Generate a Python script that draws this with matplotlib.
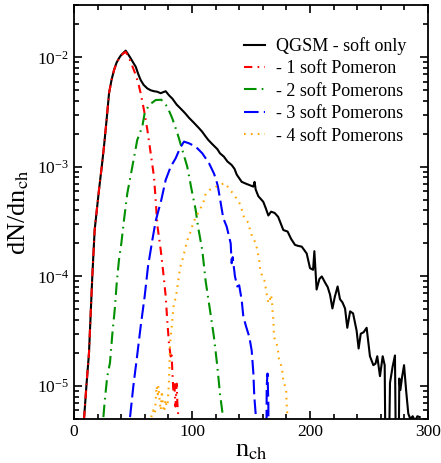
"""Charged multiplicity distribution, QGSM soft-only and n-Pomeron contributions."""

import matplotlib

matplotlib.use("Agg")
import matplotlib.pyplot as plt
from matplotlib.ticker import LogLocator, LogFormatterMathtext, MultipleLocator

plt.rcParams["font.family"] = ["Liberation Serif", "DejaVu Serif"]
plt.rcParams["mathtext.fontset"] = "stix"

# QGSM - soft only (1e-7 = below the plotted range, line drops to the axis)
n_soft = [8.5, 10.5, 12.7, 15.5, 17.5, 19.5, 21.2, 23.5, 25.4, 27.5, 29.7, 31.8, 33.9, 36, 38.1,
          40, 42, 43.8, 46, 48, 50, 52.3, 54.5, 56.5, 59, 62.1, 65, 67.8, 70.5, 73.5, 75.5, 77.7,
          80.5, 83.3, 87, 90.4, 94, 97.5, 102, 106, 108.5, 111.6, 113.8, 117, 121.5, 123.7, 127,
          130, 133.6, 136, 137.9, 142.1, 146, 149, 152, 153, 154, 156.2, 160.4, 162.5, 164.7, 167,
          170, 173, 177.4, 181, 184, 187.3, 190, 193, 197.2, 200, 202.6, 203.7, 205.6, 208, 210,
          213, 215, 217, 219, 221, 223.4, 225.4, 227.5, 229.7, 231.6, 234, 236.5, 239.5, 241.2,
          243, 245.5, 248, 250.8, 253.7, 255.5, 257, 259.3, 261.6, 263.3, 265, 267.8, 270, 272,
          274, 275.7, 276.6, 278, 279.7, 281.5, 283.3, 285, 287, 289, 291, 293]
y_soft = [5e-6, 1e-5, 2e-5, 1e-4, 2.65e-4, 4.2e-4, 6.2e-4, 1.0e-3, 1.53e-3, 2.6e-3, 4.7e-3, 6.2e-3,
          7.65e-3, 8.9e-3, 9.8e-3, 1.05e-2, 1.1e-2, 1.15e-2, 1.06e-2, 9.8e-3, 9.0e-3, 8.2e-3,
          7.0e-3, 6.2e-3, 5.6e-3, 5.2e-3, 5.0e-3, 4.9e-3, 4.85e-3, 4.7e-3, 4.8e-3, 4.9e-3,
          4.5e-3, 4.2e-3, 3.7e-3, 3.4e-3, 3.1e-3, 2.8e-3, 2.5e-3, 2.25e-3, 2.1e-3, 1.89e-3,
          1.76e-3, 1.62e-3, 1.45e-3, 1.33e-3, 1.24e-3, 1.12e-3, 1.04e-3, 9.6e-4, 8.5e-4, 7.3e-4,
          7.0e-4, 6.8e-4, 6.6e-4, 7.3e-4, 6.2e-4, 5.4e-4, 4.8e-4, 4.2e-4, 3.6e-4, 3.9e-4, 3.8e-4,
          3.5e-4, 2.65e-4, 2.57e-4, 2.2e-4, 1.94e-4, 1.9e-4, 1.87e-4, 1.62e-4, 1.19e-4, 1.15e-4,
          1.7e-4, 7.6e-5, 9.5e-5, 1.0e-4, 8.7e-5, 8.0e-5, 6.8e-5, 5.1e-5, 6.5e-5, 8.1e-5, 6.2e-5,
          5.8e-5, 5.1e-5, 3.4e-5, 4.8e-5, 4.6e-5, 3.2e-5, 2.2e-5, 3.0e-5, 3.1e-5, 3.4e-5,
          1.87e-5, 1.55e-5, 1.6e-5, 1.87e-5, 1.23e-5, 1.87e-5, 1.55e-5, 1e-7, 1.07e-5, 1.5e-5,
          1.9e-5, 1e-7, 1.17e-5, 9.2e-6, 1.2e-5, 1.55e-5, 9e-6, 5.6e-6, 5.0e-6, 5.3e-6, 4.8e-6,
          5.3e-6, 5.2e-6]

# 1 soft Pomeron
n_p1 = [8.5, 10.5, 12.7, 15.5, 17.5, 19.5, 21.2, 23.5, 25.4, 27.5, 29.7, 31.8, 33.9, 36, 38.1,
        40, 42, 43.8, 46, 48, 50, 52.3, 54.5, 56.5, 59.3, 62.1, 65, 67.8, 69.2, 70.6, 73.5, 75.7,
        77.7, 79, 80.5, 81.9, 82.7, 83.3, 84.2, 85, 86, 87, 87.6, 88.3, 88.8]
y_p1 = [5e-6, 1e-5, 2e-5, 1e-4, 2.65e-4, 4.2e-4, 6.2e-4, 1.0e-3, 1.53e-3, 2.6e-3, 4.7e-3, 6.2e-3,
        7.6e-3, 8.8e-3, 9.7e-3, 1.04e-2, 1.09e-2, 1.12e-2, 1.02e-2, 9.1e-3, 8.0e-3, 6.9e-3,
        5.8e-3, 4.7e-3, 3.3e-3, 2.2e-3, 1.33e-3, 8.1e-4, 5.0e-4, 2.95e-4, 1.74e-4, 1.07e-4,
        6.6e-5, 4.0e-5, 2.45e-5, 1.86e-5, 2.0e-5, 1.4e-5, 9e-6, 1.1e-5, 6.5e-6, 1.05e-5, 7e-6,
        5.5e-6, 4e-6]

# 2 soft Pomerons
n_p2 = [24.9, 26, 28.2, 30.5, 32.5, 34.5, 36.2, 38.1, 40.1, 42.4, 45.2, 49.4, 53.6, 57.9, 59.9,
        63.6, 69.2, 74, 79, 83.3, 87.6, 91.8, 96, 100.3, 103.1, 105.1, 108.7, 111.6, 115.8, 118.6,
        121.5, 123.7, 126]
y_p2 = [5.2e-6, 7.2e-6, 1.23e-5, 1.63e-5, 3.0e-5, 4.95e-5, 8.7e-5, 1.41e-4, 2.0e-4, 3.3e-4,
        5.75e-4, 1.0e-3, 1.76e-3, 2.34e-3, 3.1e-3, 3.67e-3, 4.07e-3, 4.1e-3, 3.55e-3, 2.77e-3,
        2.03e-3, 1.43e-3, 1.0e-3, 5.7e-4, 4.06e-4, 2.85e-4, 1.74e-4, 9e-5, 4.5e-5, 2.8e-5,
        1.5e-5, 8.5e-6, 5.5e-6]

# 3 soft Pomerons
n_p3 = [47.5, 50.3, 53.1, 56.5, 59.9, 62.7, 66.4, 69.2, 74, 77.7, 81.9, 86.2, 89.8, 93.2, 97.5,
        103.1, 108.7, 114.4, 118.6, 120.5, 122, 124.3, 126.5, 129.4, 132.8, 133.6, 134.5, 136.4,
        138.4, 140, 142.1, 143.5, 145.8, 148.6, 150.6, 152, 152.8, 154, 155, 162.5, 163.3, 164,
        164.7, 165.5]
y_p3 = [5.2e-6, 1e-5, 1.74e-5, 3.5e-5, 6.6e-5, 1.23e-4, 2.15e-4, 3.2e-4, 5e-4, 7.6e-4, 1e-3,
        1.2e-3, 1.48e-3, 1.7e-3, 1.64e-3, 1.53e-3, 1.33e-3, 1.08e-3, 8.7e-4, 7.6e-4, 6.6e-4,
        4.7e-4, 3.4e-4, 2.85e-4, 2e-4, 1.32e-4, 1.5e-4, 1e-4, 8.1e-5, 8.3e-5, 6.1e-5, 4.3e-5,
        3.5e-5, 2.8e-5, 2.1e-5, 1.31e-5, 8e-6, 5.5e-6, 1e-7, 1e-7, 1e-5, 1.3e-5, 7e-6, 1e-7]

# 4 soft Pomerons
n_p4 = [65.5, 67, 68.5, 70, 71, 71.5, 72.5, 73.5, 74.5, 75.5, 76.5, 77.5, 78.5, 79.5, 80.3, 80.8,
        81.4, 82.5, 84.7, 86.2, 88.1, 89.8, 91.8, 94.6, 96.6, 98.9, 101.1, 104, 106.8, 109.6, 111,
        115.3, 119.5, 123.2, 128, 132.2, 136.4, 140.1, 142.1, 144.3, 147.7, 149.2, 151, 154.2,
        155.4, 156.8, 157.6, 159.3, 161.9, 162.7, 164.7, 165.5, 167, 168, 168.4, 169, 169.2,
        169.5, 171.7, 172.9, 173.7, 175.7, 176.8, 177.4, 179.7, 180, 180.2, 180.5, 183, 187.3, 189]
y_p4 = [5.2e-6, 6e-6, 5.5e-6, 1.0e-5, 8.4e-6, 1.0e-5, 7.5e-6, 6e-6, 9e-6, 6.5e-6, 5.8e-6, 7.5e-6,
        6.5e-6, 7.2e-6, 1.0e-5, 1.4e-5, 2.4e-5, 3.2e-5, 5.8e-5, 6.3e-5, 8.7e-5, 1.19e-4, 1.4e-4,
        1.86e-4, 2.23e-4, 2.57e-4, 3.1e-4, 3.6e-4, 4.1e-4, 4.7e-4, 5.5e-4, 6.2e-4, 6.5e-4,
        6.85e-4, 7.1e-4, 6.2e-4, 5.4e-4, 4.7e-4, 4.1e-4, 3.4e-4, 3.1e-4, 2.65e-4, 2.3e-4, 2e-4,
        1.7e-4, 1.45e-4, 1.2e-4, 1.02e-4, 8.9e-5, 7.5e-5, 5.7e-5, 5.8e-5, 6.8e-5, 5.5e-5, 4.6e-5,
        4e-5, 3.3e-5, 2.8e-5, 2.45e-5, 2.1e-5, 1.77e-5, 1.52e-5, 1.3e-5, 1.1e-5, 9.5e-6, 8.1e-6,
        6.9e-6, 5.9e-6, 4e-6, 5.2e-6, 4e-6]

labels = ["QGSM - soft only", "- 1 soft Pomeron", "- 2 soft Pomerons",
          "- 3 soft Pomerons", "- 4 soft Pomerons"]

fig = plt.figure(figsize=(4.41, 4.63), dpi=100)
ax = fig.add_axes([74 / 441, 44 / 463, 354 / 441, 414 / 463])

lw = 1.5
ax.plot(n_soft, y_soft, color="black", lw=lw, label=labels[0])
ax.plot(n_p1, y_p1, color="red", lw=lw, ls=(0, (4, 2.5, 0.8, 2.5)), label=labels[1])
ax.plot(n_p2, y_p2, color="#009000", lw=lw, ls=(0, (6, 2.5, 0.8, 2.5)), label=labels[2])
ax.plot(n_p3, y_p3, color="blue", lw=lw, ls=(0, (7, 2.5)), label=labels[3])
ax.plot(n_p4, y_p4, color="orange", lw=lw, ls=(0, (0.8, 2.5)), label=labels[4])

ax.set_yscale("log")
ax.set_xlim(0, 300)
ax.set_ylim(5e-6, 3e-2)
ax.xaxis.set_major_locator(MultipleLocator(100))
ax.xaxis.set_minor_locator(MultipleLocator(20))
ax.yaxis.set_major_locator(LogLocator(base=10, numticks=10))
ax.yaxis.set_minor_locator(LogLocator(base=10, subs=range(2, 10), numticks=10))
ax.yaxis.set_major_formatter(LogFormatterMathtext())

ax.tick_params(which="both", direction="in", top=True, right=True, width=1.2, labelsize=12.5)
ax.tick_params(which="major", length=6)
ax.tick_params(which="minor", length=3.5)
for s in ax.spines.values():
    s.set_linewidth(1.3)

ax.set_xlabel(r"n$_{\rm ch}$", fontsize=19, labelpad=0)
ax.set_ylabel(r"dN/dn$_{\rm ch}$", fontsize=19, labelpad=4)

ax.legend(loc="upper right", bbox_to_anchor=(0.96, 0.94), frameon=False, fontsize=13,
          handlelength=1.2, handletextpad=0.6, labelspacing=0.3, borderaxespad=0)

fig.savefig("out.png", dpi=100)
